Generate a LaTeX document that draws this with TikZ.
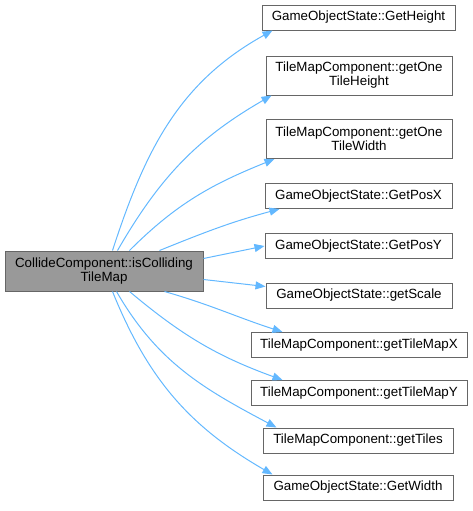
\documentclass[tikz,border=0pt]{standalone}
\usepackage{fontspec}
\setmainfont{Liberation Sans}
\definecolor{edgeblue}{HTML}{63B8FF}
\definecolor{boxgray}{HTML}{666666}
\definecolor{mainfill}{HTML}{999999}
\usetikzlibrary{arrows.meta, calc}

\begin{document}
\begin{tikzpicture}[x=0.75pt, y=0.75pt,
  fnode/.style={draw=boxgray, fill=white, line width=0.75pt, inner sep=0pt, minimum width=#1*0.75pt, align=center, font=\fontsize{10}{10.5}\selectfont},
  oneline/.style={minimum height=25*0.75pt},
  twoline/.style={minimum height=39*0.75pt},
  mainnode/.style={fnode=198, fill=mainfill, minimum height=40*0.75pt},
  calledge/.style={draw=edgeblue, line width=0.75pt, -{Triangle[length=7.5pt, width=6pt]}}]
  \useasboundingbox (0,0) rectangle (472,-511);

  % caller
  \node[mainnode] (main) at (104,-271) {CollideComponent::isColliding\\TileMap};

  % callees
  \node[fnode=193, oneline] (gh) at (358.5,-17.5) {GameObjectState::GetHeight};
  \node[fnode=186, twoline] (goth) at (359,-75.5) {TileMapComponent::getOne\\TileHeight};
  \node[fnode=186, twoline] (gotw) at (359,-139) {TileMapComponent::getOne\\TileWidth};
  \node[fnode=187, oneline] (gpx) at (358.5,-196) {GameObjectState::GetPosX};
  \node[fnode=187, oneline] (gpy) at (358.5,-246) {GameObjectState::GetPosY};
  \node[fnode=186, oneline] (gsc) at (359,-295.5) {GameObjectState::getScale};
  \node[fnode=216, oneline] (gtx) at (359,-345) {TileMapComponent::getTileMapX};
  \node[fnode=216, oneline] (gty) at (359,-393) {TileMapComponent::getTileMapY};
  \node[fnode=190, oneline] (gti) at (358,-440.5) {TileMapComponent::getTiles};
  \node[fnode=190, oneline] (gw) at (358,-487.5) {GameObjectState::GetWidth};

  % calls
  \draw[calledge] ($(main.north west)+(108,0)$) to[out=72, in=209] ($(gh.south west)+(11,0)$);
  \draw[calledge] ($(main.north west)+(113,0)$) to[out=60, in=210] ($(goth.south west)+(6,0)$);
  \draw[calledge] ($(main.north west)+(125,0)$) to[out=45, in=202] ($(gotw.south west)+(9,0)$);
  \draw[calledge] ($(main.north west)+(155,0)$) to[out=22, in=195] ($(gpx.south west)+(15,0)$);
  \draw[calledge] ($(main.north east)+(0,-8)$) -- (gpy.west);
  \draw[calledge] ($(main.north east)+(0,-29)$) -- ($(gsc.north west)+(0,-4)$);
  \draw[calledge] ($(main.south west)+(160,0)$) to[out=-16, in=162] ($(gtx.north west)+(32,0)$);
  \draw[calledge] ($(main.south west)+(125,0)$) to[out=-40, in=160] ($(gty.north west)+(32,0)$);
  \draw[calledge] ($(main.south west)+(112,0)$) to[out=-60, in=152] ($(gti.north west)+(14,0)$);
  \draw[calledge] ($(main.south west)+(108,0)$) to[out=-68, in=150] ($(gw.north west)+(10,0)$);
\end{tikzpicture}
\end{document}
